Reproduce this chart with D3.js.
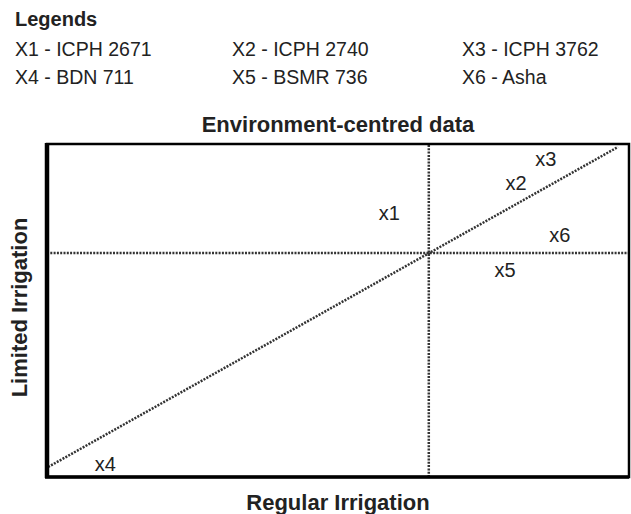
<!DOCTYPE html>
<html>
<head>
<meta charset="utf-8">
<script src="https://cdn.jsdelivr.net/npm/d3@7"></script>
<style>
	body { margin: 0; background: #fff; }
	svg { display: block; font-family: Arial, "Liberation Sans", sans-serif; }
</style>
</head>
<body>
<svg width="631" height="514"></svg>
<script>
// legend entries
const legendCodes = ["X1", "X2", "X3", "X4", "X5", "X6"];
const legendNames = ["ICPH 2671", "ICPH 2740", "ICPH 3762", "BDN 711", "BSMR 736", "Asha"];

// genotype positions (environment-centred, 0-100 units)
const genotypes = ["x1", "x2", "x3", "x4", "x5", "x6"];
const regularVals = [58.8, 80.6, 85.7, 10.0, 78.7, 88.1];
const limitedVals = [79.3, 88.3, 95.5, 3.9, 62.2, 72.7];

// means of both environments and the 1:1 trend line
const regularMean = 65.6;
const limitedMean = 67.3;
const trendRegular = [0.2, 98.1];
const trendLimited = [3.0, 99.1];

const svg = d3.select("svg");
const margin = { top: 144, right: 2, bottom: 37, left: 47 };
const width = 631 - margin.left - margin.right;
const height = 514 - margin.top - margin.bottom;

const x = d3.scaleLinear([0, 100], [0, width]);
const y = d3.scaleLinear([0, 100], [height, 0]);

// legend
svg.append("text")
	.attr("x", 15).attr("y", 26)
	.attr("font-weight", "bold").attr("font-size", 20)
	.attr("fill", "#222")
	.text("Legends");

const colX = [15, 232, 462];
svg.selectAll(".leg")
	.data(legendCodes)
	.join("text")
	.attr("class", "leg")
	.attr("x", (d, i) => colX[i % 3])
	.attr("y", (d, i) => 56 + Math.floor(i / 3) * 28)
	.attr("font-size", 19.5)
	.attr("fill", "#222")
	.text((d, i) => `${d} - ${legendNames[i]}`);

svg.append("text")
	.attr("x", 338).attr("y", 132)
	.attr("text-anchor", "middle")
	.attr("font-weight", "bold").attr("font-size", 22)
	.attr("fill", "#222")
	.text("Environment-centred data");

svg.append("text")
	.attr("x", 338).attr("y", 510)
	.attr("text-anchor", "middle")
	.attr("font-weight", "bold").attr("font-size", 22)
	.attr("fill", "#222")
	.text("Regular Irrigation");

svg.append("text")
	.attr("transform", `translate(27,${margin.top + height / 2 - 3}) rotate(-90)`)
	.attr("text-anchor", "middle")
	.attr("font-weight", "bold").attr("font-size", 22)
	.attr("fill", "#222")
	.text("Limited Irrigation");

const g = svg.append("g")
	.attr("transform", `translate(${margin.left},${margin.top})`);

const dotted = sel => sel
	.attr("fill", "none")
	.attr("stroke", "#333")
	.attr("stroke-width", 2.5)
	.attr("stroke-dasharray", "2,1.3");

// mean lines
g.append("line")
	.attr("x1", x(regularMean)).attr("x2", x(regularMean))
	.attr("y1", y(0)).attr("y2", y(100))
	.call(dotted);

g.append("line")
	.attr("x1", x(0)).attr("x2", x(100))
	.attr("y1", y(limitedMean)).attr("y2", y(limitedMean))
	.call(dotted);

// trend line
g.append("path")
	.attr("d", d3.line()(trendRegular.map((v, i) => [x(v), y(trendLimited[i])])))
	.call(dotted);

// genotype labels
g.selectAll(".lab")
	.data(genotypes)
	.join("text")
	.attr("class", "lab")
	.attr("x", (d, i) => x(regularVals[i]))
	.attr("y", (d, i) => y(limitedVals[i]))
	.attr("dy", "0.35em")
	.attr("text-anchor", "middle")
	.attr("font-size", 20)
	.attr("fill", "#222")
	.attr("stroke", "#fff").attr("stroke-width", 4).attr("paint-order", "stroke")
	.text(d => d);

// frame
g.append("rect")
	.attr("x", 0).attr("y", 0)
	.attr("width", width).attr("height", height)
	.attr("fill", "none").attr("stroke", "#000").attr("stroke-width", 2.5);
g.append("line")
	.attr("x1", 0).attr("x2", 0).attr("y1", -1).attr("y2", height + 1)
	.attr("stroke", "#000").attr("stroke-width", 4.5);
g.append("line")
	.attr("x1", -2).attr("x2", width).attr("y1", height).attr("y2", height)
	.attr("stroke", "#000").attr("stroke-width", 3.5);
</script>
</body>
</html>
